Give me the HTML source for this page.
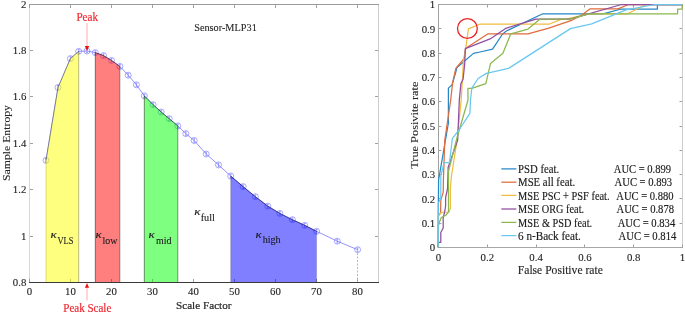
<!DOCTYPE html>
<html><head><meta charset="utf-8"><style>
html,body{margin:0;padding:0;background:#fff;width:685px;height:313px;overflow:hidden;position:relative}
text{font-family:'Liberation Serif',serif}
</style></head><body>
<div style="position:absolute;left:0;top:0;width:685px;height:313px;will-change:transform">
<svg width="685" height="313" viewBox="0 0 685 313" style="display:block;font-family:'Liberation Serif', serif">
<rect width="685" height="313" fill="#fff"/>
<line x1="29.5" y1="4" x2="29.5" y2="283" stroke="#d8d8d8" stroke-width="1"/>
<line x1="378.5" y1="4" x2="378.5" y2="283" stroke="#cccccc" stroke-width="1"/>
<line x1="29" y1="4.5" x2="379" y2="4.5" stroke="#9a9a9a" stroke-width="1"/>
<path d="M29.5,282 v-3 M29.5,5 v3 M70.5,282 v-3 M70.5,5 v3 M111.5,282 v-3 M111.5,5 v3 M152.5,282 v-3 M152.5,5 v3 M193.5,282 v-3 M193.5,5 v3 M234.5,282 v-3 M234.5,5 v3 M275.5,282 v-3 M275.5,5 v3 M316.5,282 v-3 M316.5,5 v3 M357.5,282 v-3 M357.5,5 v3 M30,282.5 h3 M378,282.5 h-3 M30,236.5 h3 M378,236.5 h-3 M30,189.5 h3 M378,189.5 h-3 M30,143.5 h3 M378,143.5 h-3 M30,96.5 h3 M378,96.5 h-3 M30,50.5 h3 M378,50.5 h-3 M30,4.5 h3 M378,4.5 h-3" stroke="#a0a0a0" stroke-width="1" fill="none"/>
<line x1="357.5" y1="253" x2="357.5" y2="282" stroke="#b8b8b8" stroke-width="1" stroke-dasharray="2,1.5"/>
<path d="M46.0,160.3 L58.0,87.5 L70.4,58.6 L78.7,51.3 L87.0,51.0 L95.3,52.6 L103.5,55.6 L111.5,60.4 L119.9,66.4 L128.2,75.2 L136.4,84.8 L144.3,95.9 L153.1,104.7 L161.2,112.0 L169.2,118.7 L177.8,125.9 L185.8,133.6 L194.2,140.5 L206.2,154.0 L218.5,164.9 L230.7,176.0 L243.1,186.6 L255.4,196.7 L267.8,206.1 L279.9,213.4 L292.4,219.7 L304.7,225.3 L316.6,231.3 L337.3,241.2 L357.6,249.7" fill="none" stroke="#5a5aff" stroke-width="0.65"/>
<path d="M49.0,160.3 a3,3 0 1,0 -6,0 a3,3 0 1,0 6,0 M45.0,158.5 h2 M46.0,158.5 v3.6 M45.0,162.1 h2 M61.0,87.5 a3,3 0 1,0 -6,0 a3,3 0 1,0 6,0 M57.0,85.7 h2 M58.0,85.7 v3.6 M57.0,89.3 h2 M73.4,58.6 a3,3 0 1,0 -6,0 a3,3 0 1,0 6,0 M69.4,56.8 h2 M70.4,56.8 v3.6 M69.4,60.4 h2 M81.7,51.3 a3,3 0 1,0 -6,0 a3,3 0 1,0 6,0 M77.7,49.5 h2 M78.7,49.5 v3.6 M77.7,53.1 h2 M90.0,51.0 a3,3 0 1,0 -6,0 a3,3 0 1,0 6,0 M86.0,49.2 h2 M87.0,49.2 v3.6 M86.0,52.8 h2 M98.3,52.6 a3,3 0 1,0 -6,0 a3,3 0 1,0 6,0 M94.3,50.8 h2 M95.3,50.8 v3.6 M94.3,54.4 h2 M106.5,55.6 a3,3 0 1,0 -6,0 a3,3 0 1,0 6,0 M102.5,53.8 h2 M103.5,53.8 v3.6 M102.5,57.4 h2 M114.5,60.4 a3,3 0 1,0 -6,0 a3,3 0 1,0 6,0 M110.5,58.6 h2 M111.5,58.6 v3.6 M110.5,62.2 h2 M122.9,66.4 a3,3 0 1,0 -6,0 a3,3 0 1,0 6,0 M118.9,64.6 h2 M119.9,64.6 v3.6 M118.9,68.2 h2 M131.2,75.2 a3,3 0 1,0 -6,0 a3,3 0 1,0 6,0 M127.2,73.4 h2 M128.2,73.4 v3.6 M127.2,77.0 h2 M139.4,84.8 a3,3 0 1,0 -6,0 a3,3 0 1,0 6,0 M135.4,83.0 h2 M136.4,83.0 v3.6 M135.4,86.6 h2 M147.3,95.9 a3,3 0 1,0 -6,0 a3,3 0 1,0 6,0 M143.3,94.1 h2 M144.3,94.1 v3.6 M143.3,97.7 h2 M156.1,104.7 a3,3 0 1,0 -6,0 a3,3 0 1,0 6,0 M152.1,102.9 h2 M153.1,102.9 v3.6 M152.1,106.5 h2 M164.2,112.0 a3,3 0 1,0 -6,0 a3,3 0 1,0 6,0 M160.2,110.2 h2 M161.2,110.2 v3.6 M160.2,113.8 h2 M172.2,118.7 a3,3 0 1,0 -6,0 a3,3 0 1,0 6,0 M168.2,116.9 h2 M169.2,116.9 v3.6 M168.2,120.5 h2 M180.8,125.9 a3,3 0 1,0 -6,0 a3,3 0 1,0 6,0 M176.8,124.1 h2 M177.8,124.1 v3.6 M176.8,127.7 h2 M188.8,133.6 a3,3 0 1,0 -6,0 a3,3 0 1,0 6,0 M184.8,131.8 h2 M185.8,131.8 v3.6 M184.8,135.4 h2 M197.2,140.5 a3,3 0 1,0 -6,0 a3,3 0 1,0 6,0 M193.2,138.7 h2 M194.2,138.7 v3.6 M193.2,142.3 h2 M209.2,154.0 a3,3 0 1,0 -6,0 a3,3 0 1,0 6,0 M205.2,152.2 h2 M206.2,152.2 v3.6 M205.2,155.8 h2 M221.5,164.9 a3,3 0 1,0 -6,0 a3,3 0 1,0 6,0 M217.5,163.1 h2 M218.5,163.1 v3.6 M217.5,166.7 h2 M233.7,176.0 a3,3 0 1,0 -6,0 a3,3 0 1,0 6,0 M229.7,174.2 h2 M230.7,174.2 v3.6 M229.7,177.8 h2 M246.1,186.6 a3,3 0 1,0 -6,0 a3,3 0 1,0 6,0 M242.1,184.8 h2 M243.1,184.8 v3.6 M242.1,188.4 h2 M258.4,196.7 a3,3 0 1,0 -6,0 a3,3 0 1,0 6,0 M254.4,194.9 h2 M255.4,194.9 v3.6 M254.4,198.5 h2 M270.8,206.1 a3,3 0 1,0 -6,0 a3,3 0 1,0 6,0 M266.8,204.3 h2 M267.8,204.3 v3.6 M266.8,207.9 h2 M282.9,213.4 a3,3 0 1,0 -6,0 a3,3 0 1,0 6,0 M278.9,211.6 h2 M279.9,211.6 v3.6 M278.9,215.2 h2 M295.4,219.7 a3,3 0 1,0 -6,0 a3,3 0 1,0 6,0 M291.4,217.9 h2 M292.4,217.9 v3.6 M291.4,221.5 h2 M307.7,225.3 a3,3 0 1,0 -6,0 a3,3 0 1,0 6,0 M303.7,223.5 h2 M304.7,223.5 v3.6 M303.7,227.1 h2 M319.6,231.3 a3,3 0 1,0 -6,0 a3,3 0 1,0 6,0 M315.6,229.5 h2 M316.6,229.5 v3.6 M315.6,233.1 h2 M340.3,241.2 a3,3 0 1,0 -6,0 a3,3 0 1,0 6,0 M336.3,239.4 h2 M337.3,239.4 v3.6 M336.3,243.0 h2 M360.6,249.7 a3,3 0 1,0 -6,0 a3,3 0 1,0 6,0 M356.6,247.9 h2 M357.6,247.9 v3.6 M356.6,251.5 h2" fill="none" stroke="#6464ff" stroke-width="0.55"/>
<path d="M46.0,282.5 L46.0,160.3 L58.0,87.5 L70.4,58.6 L78.7,51.3 L78.7,282.5 Z" fill="#ffff00" fill-opacity="0.5"/>
<path d="M46.0,160.3 L58.0,87.5 L70.4,58.6 L78.7,51.3" fill="none" stroke="#000" stroke-opacity="0.32" stroke-width="0.9"/>
<line x1="46.0" y1="160.3" x2="46.0" y2="282.5" stroke="#000" stroke-opacity="0.18" stroke-width="0.9"/>
<line x1="78.7" y1="51.3" x2="78.7" y2="282.5" stroke="#000" stroke-opacity="0.3" stroke-width="0.9"/>
<path d="M95.3,282.5 L95.3,52.6 L103.5,55.6 L111.5,60.4 L119.9,66.4 L119.9,282.5 Z" fill="#ff0000" fill-opacity="0.5"/>
<path d="M95.3,52.6 L103.5,55.6 L111.5,60.4 L119.9,66.4" fill="none" stroke="#000" stroke-opacity="0.5" stroke-width="0.9"/>
<line x1="95.3" y1="52.6" x2="95.3" y2="282.5" stroke="#000" stroke-opacity="0.5" stroke-width="0.9"/>
<line x1="119.9" y1="66.4" x2="119.9" y2="282.5" stroke="#000" stroke-opacity="0.4" stroke-width="0.9"/>
<path d="M144.3,282.5 L144.3,95.9 L153.1,104.7 L161.2,112.0 L169.2,118.7 L177.8,125.9 L177.8,282.5 Z" fill="#00ff00" fill-opacity="0.5"/>
<path d="M144.3,95.9 L153.1,104.7 L161.2,112.0 L169.2,118.7 L177.8,125.9" fill="none" stroke="#000" stroke-opacity="0.5" stroke-width="0.9"/>
<line x1="144.3" y1="95.9" x2="144.3" y2="282.5" stroke="#000" stroke-opacity="0.5" stroke-width="0.9"/>
<line x1="177.8" y1="125.9" x2="177.8" y2="282.5" stroke="#000" stroke-opacity="0.45" stroke-width="0.9"/>
<path d="M230.7,282.5 L230.7,176.0 L243.1,186.6 L255.4,196.7 L267.8,206.1 L279.9,213.4 L292.4,219.7 L304.7,225.3 L316.6,231.3 L316.6,282.5 Z" fill="#0000ff" fill-opacity="0.5"/>
<path d="M230.7,176.0 L243.1,186.6 L255.4,196.7 L267.8,206.1 L279.9,213.4 L292.4,219.7 L304.7,225.3 L316.6,231.3" fill="none" stroke="#000" stroke-opacity="0.5" stroke-width="0.9"/>
<line x1="230.7" y1="176.0" x2="230.7" y2="282.5" stroke="#000" stroke-opacity="0.2" stroke-width="0.9"/>
<line x1="316.6" y1="231.3" x2="316.6" y2="282.5" stroke="#000" stroke-opacity="0.15" stroke-width="0.9"/>
<line x1="29" y1="282.5" x2="379" y2="282.5" stroke="#3a3a3a" stroke-width="1"/>
<text x="29.5" y="295.3" font-size="10.8" fill="#262626" text-anchor="middle" stroke="#262626" stroke-width="0.12">0</text>
<text x="70.5" y="295.3" font-size="10.8" fill="#262626" text-anchor="middle" stroke="#262626" stroke-width="0.12">10</text>
<text x="111.5" y="295.3" font-size="10.8" fill="#262626" text-anchor="middle" stroke="#262626" stroke-width="0.12">20</text>
<text x="152.5" y="295.3" font-size="10.8" fill="#262626" text-anchor="middle" stroke="#262626" stroke-width="0.12">30</text>
<text x="193.5" y="295.3" font-size="10.8" fill="#262626" text-anchor="middle" stroke="#262626" stroke-width="0.12">40</text>
<text x="234.5" y="295.3" font-size="10.8" fill="#262626" text-anchor="middle" stroke="#262626" stroke-width="0.12">50</text>
<text x="275.5" y="295.3" font-size="10.8" fill="#262626" text-anchor="middle" stroke="#262626" stroke-width="0.12">60</text>
<text x="316.5" y="295.3" font-size="10.8" fill="#262626" text-anchor="middle" stroke="#262626" stroke-width="0.12">70</text>
<text x="357.5" y="295.3" font-size="10.8" fill="#262626" text-anchor="middle" stroke="#262626" stroke-width="0.12">80</text>
<text x="26.3" y="286.2" font-size="10.8" fill="#262626" text-anchor="end" stroke="#262626" stroke-width="0.12">0.8</text>
<text x="26.3" y="240.2" font-size="10.8" fill="#262626" text-anchor="end" stroke="#262626" stroke-width="0.12">1</text>
<text x="26.3" y="193.2" font-size="10.8" fill="#262626" text-anchor="end" stroke="#262626" stroke-width="0.12">1.2</text>
<text x="26.3" y="147.2" font-size="10.8" fill="#262626" text-anchor="end" stroke="#262626" stroke-width="0.12">1.4</text>
<text x="26.3" y="100.2" font-size="10.8" fill="#262626" text-anchor="end" stroke="#262626" stroke-width="0.12">1.6</text>
<text x="26.3" y="54.2" font-size="10.8" fill="#262626" text-anchor="end" stroke="#262626" stroke-width="0.12">1.8</text>
<text x="26.3" y="8.2" font-size="10.8" fill="#262626" text-anchor="end" stroke="#262626" stroke-width="0.12">2</text>
<text x="176" y="308.9" font-size="11.4" fill="#262626" textLength="55.5" lengthAdjust="spacingAndGlyphs" stroke="#262626" stroke-width="0.2">Scale Factor</text>
<g transform="translate(10.2,181) rotate(-90)">
<text x="0" y="0" font-size="11" fill="#262626" textLength="76" lengthAdjust="spacingAndGlyphs" stroke="#262626" stroke-width="0.1">Sample Entropy</text>
</g>
<text x="194.2" y="31.4" font-size="10.8" fill="#262626" textLength="62.6" lengthAdjust="spacingAndGlyphs" stroke="#262626" stroke-width="0.1">Sensor-MLP31</text>
<text x="76.4" y="20.9" font-size="11.8" fill="#ee2b35" textLength="21.6" lengthAdjust="spacingAndGlyphs" stroke="#ee2b35" stroke-width="0.2">Peak</text>
<line x1="87" y1="23" x2="87" y2="47" stroke="#ffa0a0" stroke-width="0.9"/>
<path d="M84.8,46 L89.2,46 L87,50.8 Z" fill="#e81010"/>
<text x="63.3" y="311.8" font-size="12" fill="#ee2b35" textLength="48" lengthAdjust="spacingAndGlyphs" stroke="#ee2b35" stroke-width="0.22">Peak Scale</text>
<line x1="87" y1="300.5" x2="87" y2="287" stroke="#ffa0a0" stroke-width="0.9"/>
<path d="M84.9,287.8 L89.1,287.8 L87,283 Z" fill="#ee1010"/>
<text x="50.5" y="237.6" font-size="10.5" fill="#1a1a1a" textLength="6.3" lengthAdjust="spacingAndGlyphs" stroke="#1a1a1a" stroke-width="0.12" font-style="italic">&#954;</text>
<text x="57.5" y="243.9" font-size="10.3" fill="#1a1a1a" textLength="16" lengthAdjust="spacingAndGlyphs" stroke="#1a1a1a" stroke-width="0.1">VLS</text>
<text x="95.5" y="237.6" font-size="10.5" fill="#1a1a1a" textLength="6.3" lengthAdjust="spacingAndGlyphs" stroke="#1a1a1a" stroke-width="0.12" font-style="italic">&#954;</text>
<text x="102.4" y="243.9" font-size="10.3" fill="#1a1a1a" textLength="15" lengthAdjust="spacingAndGlyphs" stroke="#1a1a1a" stroke-width="0.1">low</text>
<text x="148.6" y="238.0" font-size="10.5" fill="#1a1a1a" textLength="6.3" lengthAdjust="spacingAndGlyphs" stroke="#1a1a1a" stroke-width="0.12" font-style="italic">&#954;</text>
<text x="156.1" y="243.7" font-size="10.3" fill="#1a1a1a" textLength="15.5" lengthAdjust="spacingAndGlyphs" stroke="#1a1a1a" stroke-width="0.1">mid</text>
<text x="194.3" y="214.6" font-size="10.5" fill="#1a1a1a" textLength="6.3" lengthAdjust="spacingAndGlyphs" stroke="#1a1a1a" stroke-width="0.12" font-style="italic">&#954;</text>
<text x="200.7" y="220.6" font-size="10.3" fill="#1a1a1a" textLength="14.2" lengthAdjust="spacingAndGlyphs" stroke="#1a1a1a" stroke-width="0.1">full</text>
<text x="255.6" y="238.1" font-size="10.5" fill="#1a1a1a" textLength="6.3" lengthAdjust="spacingAndGlyphs" stroke="#1a1a1a" stroke-width="0.12" font-style="italic">&#954;</text>
<text x="262.7" y="243.3" font-size="10.3" fill="#1a1a1a" textLength="18" lengthAdjust="spacingAndGlyphs" stroke="#1a1a1a" stroke-width="0.1">high</text>
<line x1="438.5" y1="4" x2="438.5" y2="248" stroke="#a0a0a0" stroke-width="1"/>
<line x1="682.5" y1="4" x2="682.5" y2="248" stroke="#cccccc" stroke-width="1"/>
<line x1="438" y1="4.5" x2="683" y2="4.5" stroke="#a4a4a4" stroke-width="1"/>
<line x1="438" y1="247.5" x2="683" y2="247.5" stroke="#a8a8a8" stroke-width="1"/>
<path d="M438.5,247 v-2.5 M438.5,5 v2.5 M487.5,247 v-2.5 M487.5,5 v2.5 M536.5,247 v-2.5 M536.5,5 v2.5 M584.5,247 v-2.5 M584.5,5 v2.5 M633.5,247 v-2.5 M633.5,5 v2.5 M682.5,247 v-2.5 M682.5,5 v2.5 M439,247.5 h2.5 M682,247.5 h-2.5 M439,223.5 h2.5 M682,223.5 h-2.5 M439,198.5 h2.5 M682,198.5 h-2.5 M439,174.5 h2.5 M682,174.5 h-2.5 M439,150.5 h2.5 M682,150.5 h-2.5 M439,126.5 h2.5 M682,126.5 h-2.5 M439,101.5 h2.5 M682,101.5 h-2.5 M439,77.5 h2.5 M682,77.5 h-2.5 M439,53.5 h2.5 M682,53.5 h-2.5 M439,28.5 h2.5 M682,28.5 h-2.5 M439,4.5 h2.5 M682,4.5 h-2.5" stroke="#a0a0a0" stroke-width="1" fill="none"/>
<path d="M438.2,247.3 L438.4,201.0 L438.6,180.0 L448.4,123.0 L448.4,88.1 L452.0,84.9 L455.8,72.1 L456.7,67.8 L473.5,53.4 L480.0,52.0 L492.6,49.2 L502.2,34.5 L506.0,31.2 L542.8,13.8 L603.0,13.8 L621.2,9.0 L657.4,9.0 L657.4,4.5 L682.1,4.5" fill="none" stroke="#2687c7" stroke-width="1.25" stroke-linejoin="round"/>
<path d="M438.2,247.3 L438.4,216.0 L440.6,212.5 L440.8,200.0 L443.2,192.4 L443.4,180.0 L444.8,140.0 L450.7,100.0 L452.6,83.0 L455.8,68.3 L464.2,58.5 L465.7,48.2 L488.1,33.8 L528.0,33.8 L548.8,28.1 L570.9,20.7 L581.5,15.2 L590.1,8.8 L618.0,8.8 L628.6,4.5 L682.1,4.5" fill="none" stroke="#df6d3c" stroke-width="1.25" stroke-linejoin="round"/>
<path d="M438.2,247.3 L438.4,216.0 L441.3,212.5 L448.9,212.0 L450.4,208.0 L450.4,187.0 L451.6,175.0 L457.1,140.0 L461.2,100.0 L463.5,60.0 L465.7,48.4 L468.4,28.8 L480.3,24.0 L549.5,24.0 L561.6,19.2 L566.0,19.2 L589.0,13.8 L627.7,13.8 L646.0,4.5 L682.1,4.5" fill="none" stroke="#f0bd41" stroke-width="1.25" stroke-linejoin="round"/>
<path d="M438.2,247.3 L438.4,242.3 L440.8,242.3 L440.8,232.5 L443.2,228.0 L443.2,217.5 L444.6,212.2 L445.6,206.0 L445.6,197.7 L447.5,189.0 L448.1,171.3 L448.1,167.5 L457.7,140.0 L459.3,100.0 L460.9,83.6 L463.1,79.2 L464.8,62.6 L465.3,48.6 L490.1,38.9 L505.6,28.4 L536.0,19.2 L570.0,19.2 L621.6,4.5 L682.1,4.5" fill="none" stroke="#914e9f" stroke-width="1.25" stroke-linejoin="round"/>
<path d="M438.2,247.3 L438.4,226.0 L439.4,222.3 L441.3,217.5 L446.0,215.1 L448.5,211.8 L448.5,171.3 L456.4,140.0 L468.0,100.0 L467.9,88.4 L471.8,88.4 L485.8,83.6 L490.5,63.6 L502.9,53.3 L510.8,33.8 L528.0,29.1 L539.8,19.2 L570.0,19.2 L589.0,13.8 L677.6,13.8 L677.6,9.2 L682.1,9.2 L682.1,4.5" fill="none" stroke="#8bb84f" stroke-width="1.25" stroke-linejoin="round"/>
<path d="M438.2,247.3 L438.2,203.0 L440.8,198.6 L440.8,176.0 L444.1,162.7 L449.5,162.7 L452.3,138.7 L459.0,130.0 L469.9,113.4 L470.5,100.0 L471.8,88.1 L478.1,78.5 L486.4,73.4 L508.6,68.4 L570.5,28.6 L591.7,23.9 L626.0,9.8 L655.0,4.5 L682.1,4.5" fill="none" stroke="#68c8f1" stroke-width="1.25" stroke-linejoin="round"/>
<circle cx="467.4" cy="28.5" r="9.9" fill="none" stroke="#ee2222" stroke-width="1.3"/>
<text x="438.5" y="261.1" font-size="10.8" fill="#262626" text-anchor="middle" stroke="#262626" stroke-width="0.12">0</text>
<text x="487.3" y="261.1" font-size="10.8" fill="#262626" text-anchor="middle" stroke="#262626" stroke-width="0.12">0.2</text>
<text x="536.1" y="261.1" font-size="10.8" fill="#262626" text-anchor="middle" stroke="#262626" stroke-width="0.12">0.4</text>
<text x="584.9" y="261.1" font-size="10.8" fill="#262626" text-anchor="middle" stroke="#262626" stroke-width="0.12">0.6</text>
<text x="633.7" y="261.1" font-size="10.8" fill="#262626" text-anchor="middle" stroke="#262626" stroke-width="0.12">0.8</text>
<text x="682.5" y="261.1" font-size="10.8" fill="#262626" text-anchor="middle" stroke="#262626" stroke-width="0.12">1</text>
<text x="435.2" y="251.2" font-size="10.8" fill="#262626" text-anchor="end" stroke="#262626" stroke-width="0.12">0</text>
<text x="435.2" y="226.9" font-size="10.8" fill="#262626" text-anchor="end" stroke="#262626" stroke-width="0.12">0.1</text>
<text x="435.2" y="202.6" font-size="10.8" fill="#262626" text-anchor="end" stroke="#262626" stroke-width="0.12">0.2</text>
<text x="435.2" y="178.3" font-size="10.8" fill="#262626" text-anchor="end" stroke="#262626" stroke-width="0.12">0.3</text>
<text x="435.2" y="154.0" font-size="10.8" fill="#262626" text-anchor="end" stroke="#262626" stroke-width="0.12">0.4</text>
<text x="435.2" y="129.7" font-size="10.8" fill="#262626" text-anchor="end" stroke="#262626" stroke-width="0.12">0.5</text>
<text x="435.2" y="105.4" font-size="10.8" fill="#262626" text-anchor="end" stroke="#262626" stroke-width="0.12">0.6</text>
<text x="435.2" y="81.1" font-size="10.8" fill="#262626" text-anchor="end" stroke="#262626" stroke-width="0.12">0.7</text>
<text x="435.2" y="56.8" font-size="10.8" fill="#262626" text-anchor="end" stroke="#262626" stroke-width="0.12">0.8</text>
<text x="435.2" y="32.5" font-size="10.8" fill="#262626" text-anchor="end" stroke="#262626" stroke-width="0.12">0.9</text>
<text x="435.2" y="8.2" font-size="10.8" fill="#262626" text-anchor="end" stroke="#262626" stroke-width="0.12">1</text>
<text x="517.8" y="273.7" font-size="11.8" fill="#262626" textLength="85" lengthAdjust="spacingAndGlyphs" stroke="#262626" stroke-width="0.15">False Positive rate</text>
<g transform="translate(417.7,168.8) rotate(-90)">
<text x="0" y="0" font-size="11.3" fill="#262626" textLength="87.2" lengthAdjust="spacingAndGlyphs" stroke="#262626" stroke-width="0.1">True Posivite rate</text>
</g>
<line x1="501.3" y1="168.9" x2="516.4" y2="168.9" stroke="#2687c7" stroke-width="1.25"/>
<text x="518.1" y="173.1" font-size="11.7" fill="#1a1a1a" textLength="41" lengthAdjust="spacingAndGlyphs" stroke="#1a1a1a" stroke-width="0.15">PSD feat.</text>
<text x="613.8" y="173.1" font-size="11.7" fill="#1a1a1a" textLength="57.3" lengthAdjust="spacingAndGlyphs" stroke="#1a1a1a" stroke-width="0.15">AUC = 0.899</text>
<line x1="501.3" y1="182.2" x2="516.4" y2="182.2" stroke="#df6d3c" stroke-width="1.25"/>
<text x="518.1" y="186.4" font-size="11.7" fill="#1a1a1a" textLength="57" lengthAdjust="spacingAndGlyphs" stroke="#1a1a1a" stroke-width="0.15">MSE all feat.</text>
<text x="614.6" y="186.4" font-size="11.7" fill="#1a1a1a" textLength="57.5" lengthAdjust="spacingAndGlyphs" stroke="#1a1a1a" stroke-width="0.15">AUC = 0.893</text>
<line x1="501.3" y1="195.4" x2="516.4" y2="195.4" stroke="#f0bd41" stroke-width="1.25"/>
<text x="518.1" y="199.6" font-size="11.7" fill="#1a1a1a" textLength="91.5" lengthAdjust="spacingAndGlyphs" stroke="#1a1a1a" stroke-width="0.15">MSE PSC + PSF feat.</text>
<text x="616.3" y="199.6" font-size="11.7" fill="#1a1a1a" textLength="57.2" lengthAdjust="spacingAndGlyphs" stroke="#1a1a1a" stroke-width="0.15">AUC = 0.880</text>
<line x1="501.3" y1="209.0" x2="516.4" y2="209.0" stroke="#914e9f" stroke-width="1.25"/>
<text x="518.1" y="213.2" font-size="11.7" fill="#1a1a1a" textLength="66" lengthAdjust="spacingAndGlyphs" stroke="#1a1a1a" stroke-width="0.15">MSE ORG feat.</text>
<text x="616.6" y="213.2" font-size="11.7" fill="#1a1a1a" textLength="57.4" lengthAdjust="spacingAndGlyphs" stroke="#1a1a1a" stroke-width="0.15">AUC = 0.878</text>
<line x1="501.3" y1="222.4" x2="516.4" y2="222.4" stroke="#8bb84f" stroke-width="1.25"/>
<text x="518.1" y="226.6" font-size="11.7" fill="#1a1a1a" textLength="74" lengthAdjust="spacingAndGlyphs" stroke="#1a1a1a" stroke-width="0.15">MSE &amp; PSD feat.</text>
<text x="617.7" y="226.6" font-size="11.7" fill="#1a1a1a" textLength="57.5" lengthAdjust="spacingAndGlyphs" stroke="#1a1a1a" stroke-width="0.15">AUC = 0.834</text>
<line x1="501.3" y1="235.6" x2="516.4" y2="235.6" stroke="#68c8f1" stroke-width="1.25"/>
<text x="518.1" y="239.8" font-size="11.7" fill="#1a1a1a" textLength="62.8" lengthAdjust="spacingAndGlyphs" stroke="#1a1a1a" stroke-width="0.15">6 n-Back feat.</text>
<text x="618.5" y="239.8" font-size="11.7" fill="#1a1a1a" textLength="57.8" lengthAdjust="spacingAndGlyphs" stroke="#1a1a1a" stroke-width="0.15">AUC = 0.814</text>
</svg></div>
</body></html>
